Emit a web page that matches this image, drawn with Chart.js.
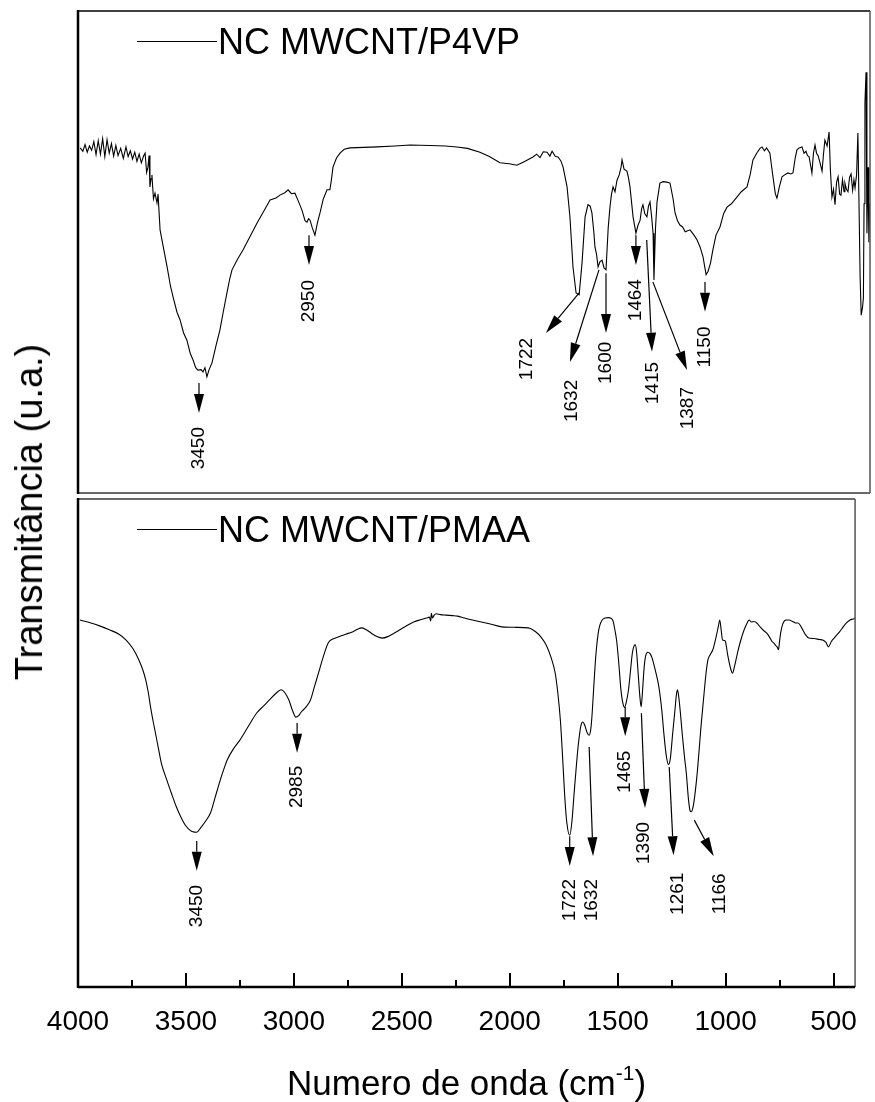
<!DOCTYPE html>
<html>
<head>
<meta charset="utf-8">
<title>FTIR NC MWCNT</title>
<script src="https://cdn.jsdelivr.net/npm/chart.js@4.4.1/dist/chart.umd.min.js"></script>
<style>
  html, body { margin: 0; padding: 0; background: #fff; }
  #wrap { position: relative; width: 875px; height: 1102px; }
  #topChart { position: absolute; left: 0; top: 0; }
  #bottomChart { position: absolute; left: 0; top: 496px; }
  #yTitle {
    position: absolute; left: 29px; top: 512px;
    transform: translate(-50%, -50%) rotate(-90deg);
    font: 38px 'Liberation Sans', Arial, sans-serif; line-height: 1;
    white-space: nowrap; color: #000;
  }
</style>
</head>
<body>
<div id="wrap">
  <canvas id="topChart" width="875" height="496"></canvas>
  <canvas id="bottomChart" width="875" height="606"></canvas>
  <div id="yTitle">Transmitância (u.a.)</div>
</div>
<script>
// wavenumber axis (cm-1)
const xTicks = [4000, 3500, 3000, 2500, 2000, 1500, 1000, 500];
const xMinorTicks = [3750, 3250, 2750, 2250, 1750, 1250, 750];

// NC MWCNT/P4VP spectrum
const p4vpWavenumber = [
  3990, 3978, 3968, 3958, 3948, 3938, 3928, 3918, 3908, 3898, 3888, 3878, 3868, 3858, 3848, 3838,
  3828, 3818, 3806, 3794, 3782, 3772, 3762, 3752, 3742, 3732, 3722, 3712, 3702, 3695, 3688, 3682,
  3677, 3673, 3668, 3664, 3657, 3650, 3641, 3636, 3627, 3610, 3595, 3580, 3568, 3550, 3536, 3520,
  3505, 3490, 3477, 3465, 3455, 3440, 3432, 3423, 3414, 3405, 3391, 3373, 3355, 3340, 3323, 3310,
  3300, 3275, 3250, 3218, 3186, 3155, 3127, 3100, 3082, 3060, 3045, 3030, 3014, 2998, 2982, 2968,
  2959, 2952, 2945, 2935, 2923, 2912, 2900, 2885, 2868, 2855, 2848, 2841, 2825, 2809, 2790, 2764,
  2700, 2641, 2560, 2491, 2400, 2330, 2277, 2230, 2173, 2130, 2082, 2040, 2005, 1970, 1932, 1915,
  1900, 1885, 1868, 1855, 1845, 1830, 1818, 1805, 1795, 1777, 1764, 1750, 1736, 1722, 1709, 1695,
  1682, 1672, 1664, 1655, 1650, 1643, 1636, 1627, 1618, 1609, 1600, 1590, 1582, 1575, 1568, 1559,
  1550, 1540, 1532, 1527, 1518, 1505, 1498, 1491, 1477, 1464, 1455, 1445, 1438, 1432, 1424, 1414,
  1407, 1400, 1393, 1386, 1382, 1375, 1368, 1355, 1340, 1323, 1309, 1295, 1286, 1275, 1264, 1252,
  1240, 1218, 1200, 1186, 1172, 1159, 1145, 1136, 1125, 1114, 1100, 1082, 1065, 1050, 1030, 1005,
  985, 959, 945, 932, 915, 900, 891, 880, 870, 855, 848, 841, 830, 823, 812, 800,
  788, 773, 760, 750, 740, 732, 722, 709, 700, 691, 684, 677, 670, 664, 657, 650,
  643, 636, 627, 618, 611, 605, 595, 586, 580, 573, 566, 559, 552, 545, 538, 532,
  525, 518, 514, 507, 500, 493, 486, 479, 473, 468, 461, 455, 450, 445, 440, 434,
  430, 427, 423, 418, 414, 409, 405, 400
];
const p4vpSignal = [
  71.6, 70.9, 72.3, 70.7, 72.0, 71.1, 72.9, 70.2, 73.1, 70.3, 73.5, 69.8, 73.3, 70.5, 72.5, 69.9,
  72.1, 70.0, 71.5, 69.4, 71.8, 69.8, 71.0, 69.3, 70.7, 68.8, 70.3, 68.5, 69.9, 70.5, 66.5, 67.6,
  70.0, 63.5, 65.2, 66.0, 61.0, 62.2, 60.2, 62.0, 54.6, 50.5, 46.9, 43.0, 40.7, 37.5, 35.9, 33.2,
  31.7, 29.0, 27.6, 26.0, 25.5, 25.6, 25.1, 26.0, 24.1, 25.5, 27.0, 30.5, 33.8, 37.5, 41.5, 44.5,
  46.3, 48.5, 50.4, 53.2, 56.0, 58.5, 60.8, 61.2, 61.8, 62.3, 62.9, 62.1, 62.2, 60.5, 58.7, 56.5,
  56.2, 56.9, 56.6, 55.0, 53.5, 56.0, 58.1, 61.0, 62.9, 62.9, 65.0, 67.6, 69.5, 70.5, 71.3, 71.6,
  71.7, 71.8, 72.0, 72.2, 72.1, 72.0, 71.8, 71.5, 70.7, 69.8, 68.5, 68.3, 68.0, 68.8, 69.7, 70.3,
  69.6, 70.8, 70.7, 69.9, 70.9, 69.8, 69.7, 68.9, 67.6, 63.5, 57.3, 46.9, 41.5, 41.1, 47.7, 57.3,
  59.8, 59.5, 58.1, 54.0, 51.0, 49.5, 46.9, 48.0, 48.3, 46.7, 46.3, 55.0, 59.3, 62.0, 63.5, 62.5,
  64.9, 66.0, 67.5, 69.1, 67.2, 66.8, 65.5, 63.5, 57.3, 53.9, 55.5, 56.6, 59.0, 59.8, 58.0, 57.3,
  59.5, 60.4, 57.5, 53.9, 44.2, 55.0, 60.4, 64.3, 64.6, 64.5, 64.3, 61.0, 58.1, 56.5, 55.6, 55.2,
  54.2, 54.6, 53.5, 52.5, 51.0, 49.0, 45.3, 46.0, 47.7, 50.5, 53.5, 55.2, 58.0, 59.3, 60.0, 61.4,
  62.5, 63.5, 66.0, 69.1, 70.5, 71.5, 71.8, 71.0, 71.6, 70.5, 68.0, 65.6, 62.0, 61.2, 63.5, 65.6,
  66.0, 66.4, 66.2, 66.4, 69.5, 71.2, 71.6, 71.8, 70.5, 70.9, 70.0, 69.8, 68.0, 66.4, 70.5, 72.2,
  70.5, 70.0, 68.5, 66.8, 70.5, 73.2, 72.0, 74.9, 67.0, 61.4, 63.0, 59.8, 64.5, 65.6, 62.0, 61.8,
  65.0, 62.5, 64.3, 63.0, 62.5, 65.5, 66.2, 62.8, 65.0, 63.3, 66.0, 74.7, 60.0, 45.0, 36.9, 38.5,
  40.5, 60.0, 80.9, 87.3, 53.9, 67.6, 52.0, 60.0
];

// NC MWCNT/PMAA spectrum
const pmaaWavenumber = [
  3991, 3940, 3900, 3855, 3810, 3777, 3745, 3718, 3700, 3686, 3675, 3664, 3650, 3641, 3627, 3614,
  3590, 3568, 3545, 3523, 3500, 3480, 3468, 3450, 3432, 3410, 3386, 3365, 3341, 3320, 3309, 3280,
  3250, 3210, 3173, 3140, 3114, 3085, 3059, 3040, 3023, 3005, 2991, 2978, 2965, 2945, 2923, 2905,
  2886, 2865, 2841, 2820, 2795, 2760, 2732, 2705, 2686, 2665, 2641, 2615, 2591, 2565, 2536, 2490,
  2445, 2410, 2386, 2372, 2366, 2363, 2358, 2350, 2341, 2320, 2295, 2265, 2241, 2210, 2173, 2100,
  2036, 1970, 1914, 1880, 1855, 1830, 1809, 1790, 1777, 1765, 1755, 1745, 1735, 1722, 1712, 1702,
  1690, 1680, 1670, 1662, 1652, 1642, 1632, 1624, 1618, 1610, 1600, 1590, 1582, 1570, 1559, 1540,
  1523, 1512, 1505, 1495, 1485, 1475, 1468, 1460, 1450, 1440, 1432, 1424, 1418, 1412, 1405, 1397,
  1391, 1385, 1377, 1370, 1360, 1350, 1341, 1325, 1309, 1295, 1286, 1275, 1265, 1256, 1245, 1235,
  1228, 1223, 1217, 1210, 1200, 1190, 1182, 1172, 1165, 1159, 1150, 1140, 1130, 1114, 1100, 1090,
  1082, 1070, 1059, 1045, 1033, 1027, 1020, 1014, 1005, 1000, 990, 978, 968, 958, 945, 930,
  914, 900, 891, 880, 870, 855, 840, 820, 809, 795, 785, 777, 768, 760, 755, 750,
  745, 735, 720, 705, 690, 675, 664, 650, 630, 614, 590, 565, 550, 535, 523, 510,
  495, 477, 460, 440, 423, 410, 400
];
const pmaaSignal = [
  75.2, 74.6, 74.0, 73.2, 72.3, 71.1, 69.3, 67.0, 65.0, 62.9, 60.5, 57.4, 54.0, 52.0, 48.8, 45.9,
  42.6, 39.8, 37.0, 34.8, 33.0, 32.1, 31.8, 31.7, 32.6, 33.9, 35.7, 38.8, 42.4, 45.2, 46.5, 48.8,
  50.6, 53.5, 56.1, 57.6, 58.8, 60.1, 60.9, 60.2, 58.8, 56.5, 55.3, 55.6, 56.4, 57.3, 58.8, 61.5,
  64.3, 67.5, 70.5, 71.3, 71.7, 72.3, 72.7, 73.3, 73.6, 73.2, 72.5, 71.8, 71.5, 71.8, 72.5, 73.7,
  74.8, 75.3, 75.6, 75.8, 75.0, 76.6, 75.6, 76.2, 76.5, 76.3, 76.2, 76.1, 76.0, 75.6, 75.2, 74.5,
  73.8, 73.7, 73.6, 72.8, 71.7, 70.0, 67.6, 64.5, 60.2, 54.5, 47.1, 39.0, 33.5, 31.1, 33.8, 39.5,
  46.0, 50.5, 53.6, 54.3, 53.6, 52.2, 51.6, 53.0, 56.1, 62.0, 68.5, 72.5, 74.2, 75.3, 75.6, 75.7,
  75.2, 73.0, 71.1, 66.5, 61.0, 58.0, 57.3, 58.4, 60.8, 65.0, 68.4, 69.9, 70.1, 68.5, 64.3, 59.5,
  57.4, 60.5, 65.6, 67.9, 68.6, 68.3, 67.5, 64.8, 61.5, 56.5, 52.0, 47.5, 45.6, 46.8, 52.0, 56.5,
  59.8, 60.9, 59.5, 56.5, 51.5, 47.0, 43.9, 38.5, 36.2, 35.9, 37.0, 40.2, 44.5, 53.3, 60.0, 64.5,
  67.0, 68.2, 69.1, 71.5, 74.0, 75.2, 73.0, 71.1, 71.0, 70.7, 68.0, 65.5, 64.3, 65.8, 68.4, 71.0,
  73.2, 74.6, 75.2, 74.8, 74.9, 74.6, 73.8, 72.9, 72.5, 71.6, 70.8, 70.5, 70.0, 69.6, 69.1, 70.8,
  72.5, 74.4, 75.2, 75.2, 74.9, 74.6, 74.6, 73.8, 72.2, 71.5, 71.4, 71.2, 71.1, 70.6, 69.7, 70.8,
  71.6, 72.5, 73.5, 74.6, 75.2, 75.4, 75.6
];

// band assignments: arrow from tail to head, rotated label at text
const p4vpBands = [
  { band: 3450, tail: [3450, 22.8], head: [3450, 16.6], text: [3450, 9.3] },
  { band: 2950, tail: [2950, 53.5], head: [2950, 47.3], text: [2950, 39.8] },
  { band: 1722, tail: [1722, 41.5], head: [1873, 33.2], text: [1959, 27.8] },
  { band: 1632, tail: [1632, 46.3], head: [1764, 27.2], text: [1755, 19.1] },
  { band: 1600, tail: [1600, 45.6], head: [1600, 33.2], text: [1600, 27.0] },
  { band: 1464, tail: [1464, 53.5], head: [1464, 47.3], text: [1464, 40.0] },
  { band: 1415, tail: [1415, 52.5], head: [1391, 29.3], text: [1386, 22.8] },
  { band: 1387, tail: [1387, 43.8], head: [1232, 25.5], text: [1227, 17.6] },
  { band: 1150, tail: [1150, 43.8], head: [1150, 37.6], text: [1150, 30.3] }
];
const pmaaBands = [
  { band: 3450, tail: [3450, 29.9], head: [3450, 23.8], text: [3450, 16.6] },
  { band: 2985, tail: [2985, 54.1], head: [2985, 48.0], text: [2985, 41.0] },
  { band: 1722, tail: [1722, 30.9], head: [1722, 24.8], text: [1722, 17.8] },
  { band: 1632, tail: [1632, 49.2], head: [1614, 26.8], text: [1618, 17.8] },
  { band: 1465, tail: [1465, 57.4], head: [1465, 51.4], text: [1465, 44.1] },
  { band: 1390, tail: [1390, 56.1], head: [1373, 36.7], text: [1377, 29.5] },
  { band: 1261, tail: [1261, 45.1], head: [1241, 27.0], text: [1223, 19.1] },
  { band: 1166, tail: [1145, 34.2], head: [1055, 26.8], text: [1027, 19.1] }
];

const FONT = "'Liberation Sans', Arial, Helvetica, sans-serif";

function pairs(xs, ys) {
  return xs.map((x, i) => ({ x: x, y: ys[i] }));
}

function drawArrow(ctx, x0, y0, x1, y1) {
  const len = Math.hypot(x1 - x0, y1 - y0);
  const ux = (x1 - x0) / len, uy = (y1 - y0) / len;
  const hl = Math.min(19, len * 0.66), hw = 5;
  const bx = x1 - ux * hl, by = y1 - uy * hl;
  ctx.lineWidth = 1.2;
  ctx.beginPath();
  ctx.moveTo(x0, y0);
  ctx.lineTo(bx, by);
  ctx.stroke();
  ctx.beginPath();
  ctx.moveTo(x1, y1);
  ctx.lineTo(bx - uy * hw, by + ux * hw);
  ctx.lineTo(bx + uy * hw, by - ux * hw);
  ctx.closePath();
  ctx.fill();
}

function edge(ctx, x0, y0, x1, y1, style) {
  ctx.strokeStyle = style[0];
  ctx.lineWidth = style[1];
  ctx.beginPath();
  ctx.moveTo(x0, y0);
  ctx.lineTo(x1, y1);
  ctx.stroke();
}

// legend, band arrows, panel frame, inner ticks and axis title
const spectrumDecor = {
  id: 'spectrumDecor',
  afterDatasetsDraw(chart, args, opts) {
    const { ctx, chartArea: a, scales } = chart;
    const xs = scales.x, ys = scales.y;
    ctx.save();
    ctx.strokeStyle = '#000';
    ctx.fillStyle = '#000';

    // legend sample + name
    ctx.lineWidth = 1;
    ctx.beginPath();
    ctx.moveTo(a.left + 59, a.top + 30.5);
    ctx.lineTo(a.left + 139, a.top + 30.5);
    ctx.stroke();
    ctx.font = '36px ' + FONT;
    ctx.textAlign = 'left';
    ctx.textBaseline = 'alphabetic';
    ctx.fillText(chart.data.datasets[0].label, a.left + 140, a.top + 42.5);

    // band arrows
    opts.bands.forEach(b => {
      drawArrow(ctx,
        xs.getPixelForValue(b.tail[0]), ys.getPixelForValue(b.tail[1]),
        xs.getPixelForValue(b.head[0]), ys.getPixelForValue(b.head[1]));
      ctx.save();
      ctx.translate(xs.getPixelForValue(b.text[0]), ys.getPixelForValue(b.text[1]));
      ctx.rotate(-Math.PI / 2);
      ctx.font = '19px ' + FONT;
      ctx.textAlign = 'center';
      ctx.textBaseline = 'middle';
      ctx.fillText(String(b.band), 0, 0);
      ctx.restore();
    });

    // frame
    const f = opts.frame;
    edge(ctx, a.left, a.top, a.right, a.top, f.top);
    edge(ctx, a.right, a.top, a.right, a.bottom, f.right);
    edge(ctx, a.left, a.bottom, a.right, a.bottom, f.bottom);
    edge(ctx, a.left, a.top - 1, a.left, a.bottom + 1, f.left);

    if (opts.axis) {
      ctx.strokeStyle = '#000';
      ctx.lineWidth = 2;
      xTicks.forEach(v => {
        const px = Math.round(xs.getPixelForValue(v));
        ctx.beginPath(); ctx.moveTo(px, a.bottom); ctx.lineTo(px, a.bottom - 14); ctx.stroke();
      });
      xMinorTicks.forEach(v => {
        const px = Math.round(xs.getPixelForValue(v));
        ctx.beginPath(); ctx.moveTo(px, a.bottom); ctx.lineTo(px, a.bottom - 7); ctx.stroke();
      });

      // Numero de onda (cm^-1)
      const main = 'Numero de onda (cm', sup = '-1', close = ')';
      ctx.font = '35px ' + FONT;
      const w1 = ctx.measureText(main).width, w3 = ctx.measureText(close).width;
      ctx.font = '21px ' + FONT;
      const w2 = ctx.measureText(sup).width;
      let x = (a.left + a.right) / 2 - (w1 + w2 + w3) / 2;
      const base = chart.height - 7;
      ctx.textAlign = 'left';
      ctx.textBaseline = 'alphabetic';
      ctx.font = '35px ' + FONT;
      ctx.fillText(main, x, base);
      x += w1;
      ctx.font = '21px ' + FONT;
      ctx.fillText(sup, x, base - 15);
      x += w2;
      ctx.font = '35px ' + FONT;
      ctx.fillText(close, x, base);
    }
    ctx.restore();
  }
};

function spectrumChart(canvasId, name, wn, signal, bands, bottomPanel) {
  const xScale = {
    type: 'linear',
    min: 400,
    max: 4000,
    reverse: true,
    display: bottomPanel
  };
  if (bottomPanel) {
    Object.assign(xScale, {
      grid: { display: false, drawTicks: false },
      border: { display: false },
      afterBuildTicks: scale => { scale.ticks = xTicks.map(v => ({ value: v })); },
      afterFit: scale => { scale.height = 115; },
      ticks: {
        autoSkip: false,
        maxRotation: 0,
        padding: 18,
        color: '#000',
        font: { family: FONT, size: 28 },
        callback: v => String(v)
      }
    });
  }
  return new Chart(document.getElementById(canvasId), {
    type: 'line',
    data: {
      datasets: [{
        label: name,
        data: pairs(wn, signal),
        borderColor: '#000',
        borderWidth: 1.1,
        pointRadius: 0,
        fill: false,
        tension: 0,
        cubicInterpolationMode: bottomPanel ? 'monotone' : 'default'
      }]
    },
    options: {
      responsive: false,
      animation: false,
      events: [],
      layout: { padding: bottomPanel ? { left: 78, right: 5, top: 3, bottom: 0 } : { left: 78, right: 5, top: 11, bottom: 3 } },
      scales: {
        x: xScale,
        y: { min: 0, max: 100, display: false }
      },
      plugins: {
        legend: { display: false },
        tooltip: { enabled: false },
        spectrumDecor: {
          bands: bands,
          axis: bottomPanel,
          frame: bottomPanel
            ? { top: ['#6a6a6a', 2], right: ['#555', 1.5], bottom: ['#000', 2.5], left: ['#000', 2.5] }
            : { top: ['#000', 1.5], right: ['#555', 1.5], bottom: ['#6a6a6a', 2], left: ['#000', 2.5] }
        }
      }
    },
    plugins: [spectrumDecor]
  });
}

window.onload = function () {
  spectrumChart('topChart', 'NC MWCNT/P4VP', p4vpWavenumber, p4vpSignal, p4vpBands, false);
  spectrumChart('bottomChart', 'NC MWCNT/PMAA', pmaaWavenumber, pmaaSignal, pmaaBands, true);
};
</script>
</body>
</html>
